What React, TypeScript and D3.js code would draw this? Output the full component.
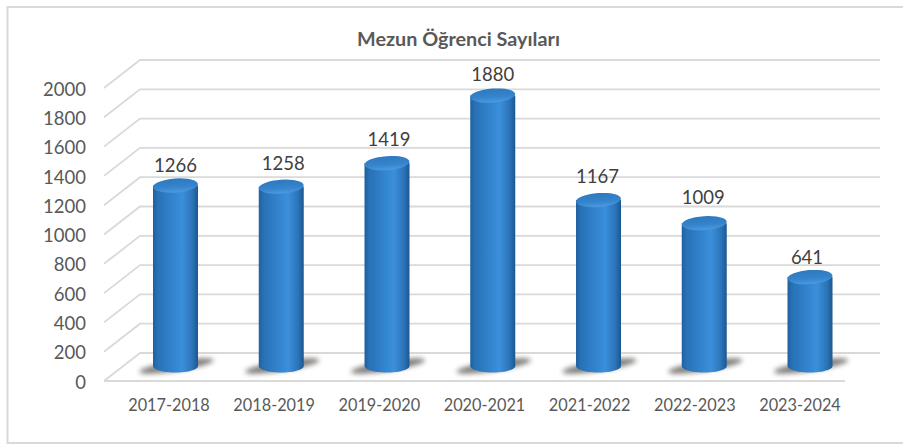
import React from "react";
import * as d3 from "d3";

const title = "Mezun Öğrenci Sayıları";
const categories = ["2017-2018", "2018-2019", "2019-2020", "2020-2021", "2021-2022", "2022-2023", "2023-2024"];
const values = [1266, 1258, 1419, 1880, 1167, 1009, 641];
const yTicks = [0, 200, 400, 600, 800, 1000, 1200, 1400, 1600, 1800, 2000];
const labelNudgeX = [0, 2, 2, 0, -1, -1, -3];
const labelNudgeY = [-20, -23, -24, -21, -24, -26, -20];

const FONT = "Lato, 'Noto Sans', sans-serif";
const GRID = "#d9d9d9";
const TEXT = "#595959";

const W = 903;
const H = 445;
const y = d3.scaleLinear().domain([0, 2000]).range([381, 88]);
const xBar = d3.scalePoint<string>().domain(categories).range([175.5, 810]);
const xLabel = d3.scalePoint<string>().domain(categories).range([169, 800]);
const depthX = 36;
const depthY = 28;
const frontX = 104;
const backEnd = 880;
const rx = 22.5;
const ry = 6.5;
const bottomY = 366;
const topShift = 10;

function cylinder(cx: number, top: number) {
  const p = d3.path();
  p.moveTo(cx - rx, top);
  p.lineTo(cx - rx, bottomY);
  const steps = 24;
  for (let i = 1; i <= steps; i++) {
    const a = Math.PI - (Math.PI * i) / steps;
    p.lineTo(cx + rx * Math.cos(a), bottomY + ry * Math.sin(a));
  }
  p.lineTo(cx + rx, top);
  p.closePath();
  return p.toString();
}

export default function App() {
  return (
    <svg width={W} height={H} viewBox={`0 0 ${W} ${H}`}
      style={{ position: "absolute", left: 0, top: 0, background: "#fff" }}>
      <defs>
        <linearGradient id="body" x1="0" x2="1" y1="0" y2="0">
          <stop offset="0" stopColor="#20609f" />
          <stop offset="0.1" stopColor="#2871b5" />
          <stop offset="0.45" stopColor="#3384cf" />
          <stop offset="0.65" stopColor="#3b8fdb" />
          <stop offset="0.88" stopColor="#2b73b8" />
          <stop offset="1" stopColor="#1d578e" />
        </linearGradient>
        <linearGradient id="cap" x1="0" x2="0" y1="0" y2="1">
          <stop offset="0" stopColor="#2c79bf" />
          <stop offset="0.6" stopColor="#3684cc" />
          <stop offset="1" stopColor="#4a9be0" />
        </linearGradient>
        <filter id="soft" x="-10%" y="-10%" width="120%" height="120%">
          <feGaussianBlur stdDeviation="0.6" />
        </filter>
        <filter id="shadow" x="-30%" y="-100%" width="160%" height="300%">
          <feGaussianBlur stdDeviation="2.6" />
        </filter>
      </defs>

      <path d={`M${W},7 H7.5 V443 H${W}`} fill="none" stroke={GRID} strokeWidth={2} />

      <g filter="url(#soft)" stroke={GRID} strokeWidth={1.8} fill="none">
        {yTicks.map((t) => (
          <path key={t}
            d={`M${frontX},${y(t)} L${frontX + depthX},${y(t) - depthY} H${backEnd}`} />
        ))}
        <line x1={frontX} x2={845} y1={y(0)} y2={y(0)} />
      </g>

      {categories.map((c, i) => {
        const cx = xBar(c)!;
        const top = y(values[i]) - topShift;
        return (
          <g key={c}>
            <ellipse cx={cx + 1} cy={bottomY} rx={rx + 15} ry={5}
              fill="#5f5a56" opacity={0.8} filter="url(#shadow)"
              transform={`rotate(-9 ${cx + 1} ${bottomY})`} />
            <g filter="url(#soft)">
              <path d={cylinder(cx, top)} fill="url(#body)" />
              <ellipse cx={cx} cy={top} rx={rx} ry={ry + 0.5}
                fill="url(#cap)" transform={`rotate(-4 ${cx} ${top})`} />
            </g>
          </g>
        );
      })}

      <g fontFamily={FONT}>
        <text x={458.5} y={46} textAnchor="middle" fontSize={19.8} fontWeight={700} fill={TEXT}>{title}</text>
        {yTicks.map((t) => (
          <text key={t} x={86} y={y(t) + 1} dy="0.36em" textAnchor="end" fontSize={18.5} fill={TEXT}>{t}</text>
        ))}
        {categories.map((c) => (
          <text key={c} x={xLabel(c)} y={405} dy="0.36em" textAnchor="middle" fontSize={16.3} fill={TEXT}>{c}</text>
        ))}
        {categories.map((c, i) => (
          <text key={c} x={xBar(c)! + labelNudgeX[i]} y={y(values[i]) - topShift + labelNudgeY[i]}
            dy="0.36em" textAnchor="middle" fontSize={18.5} fill="#404040">{values[i]}</text>
        ))}
      </g>
    </svg>
  );
}
